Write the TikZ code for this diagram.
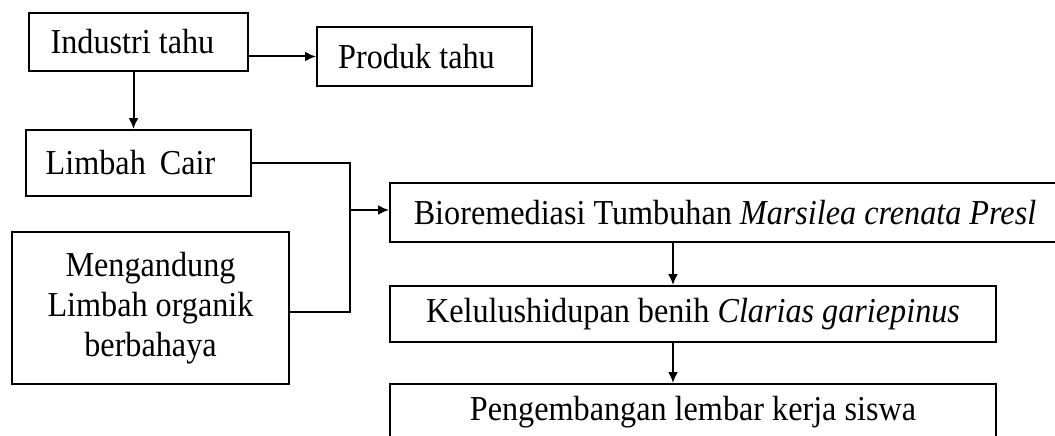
\documentclass[tikz,border=0pt]{standalone}
\usepackage{fontspec}
\setmainfont[FakeStretch=0.92]{Liberation Serif}
\usetikzlibrary{arrows.meta,calc}
\begin{document}
\begin{tikzpicture}[x=1pt,y=-1pt,
  box/.style={draw,line width=2pt,inner sep=0pt,align=center,
    font=\fontsize{35}{40}\selectfont},
  conn/.style={line width=2pt},
  arr/.style={line width=2pt,-{Latex[length=11pt,width=10pt]}}]
\useasboundingbox (0,0) rectangle (1055,436);
\clip (0,0) rectangle (1055,436);
\node[box,minimum width=219pt,minimum height=58pt] (ind) at (138.5,42) {Industri tahu\hspace{12pt}};
\node[box,minimum width=215pt,minimum height=59pt] (prod) at (424.5,56.5) {Produk tahu\hspace{16pt}};
\node[box,minimum width=225pt,minimum height=66pt] (lim) at (138.5,163) {Limbah\hspace{6pt} Cair\hspace{16pt}};
\node[box,minimum width=277pt,minimum height=152pt] (meng) at (150.5,308) {Mengandung\\Limbah organik\\berbahaya};
\node[box,minimum width=670pt,minimum height=59pt] (bio) at (725,212.5) {Bioremediasi Tumbuhan \textit{Marsilea crenata Presl}};
\node[box,minimum width=606pt,minimum height=56pt] (kel) at (693,314) {Kelulushidupan benih \textit{Clarias gariepinus}};
\node[box,minimum width=606pt,minimum height=56pt] (peng) at (693,412) {Pengembangan lembar kerja siswa};
\coordinate (j1) at (350,163);
\coordinate (j2) at (350,312);
\coordinate (j3) at (350,210);
\draw[arr] (ind.east |- prod.west) -- (prod.west);
\draw[arr] ([xshift=-5pt]ind.south) -- ([xshift=-5pt]lim.north);
\draw[conn] (lim.east) -- (j1) -- (j2) -- (meng.east |- j2);
\draw[arr] (j3) -- (bio.west |- j3);
\draw[arr] ([xshift=-20pt]kel.north |- bio.south) -- ([xshift=-20pt]kel.north);
\draw[arr] ([xshift=-20pt]kel.south) -- ([xshift=-20pt]peng.north);
\end{tikzpicture}
\end{document}
